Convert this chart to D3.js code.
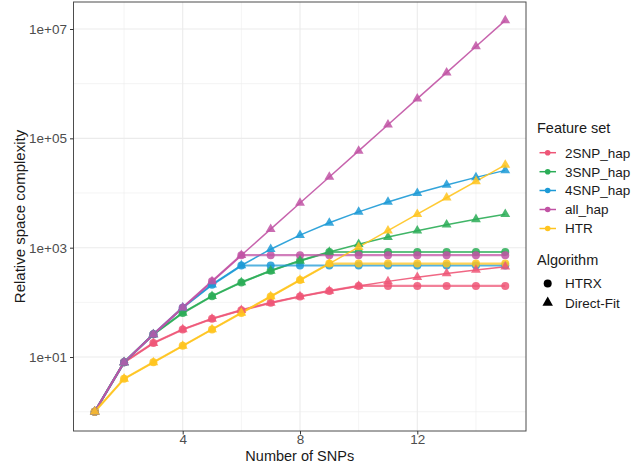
<!DOCTYPE html>
<html>
<head>
<meta charset="utf-8">
<script src="https://cdn.jsdelivr.net/npm/d3@7"></script>
<style>
  body { margin: 0; background: #fff; }
  svg { display: block; font-family: "Liberation Sans", Arial, sans-serif; }
</style>
</head>
<body>
<svg id="chart" width="637" height="469"></svg>
<script>
// ---- data ----
const snps = [1,2,3,4,5,6,7,8,9,10,11,12,13,14,15];
const featureSets = ["2SNP_hap","3SNP_hap","4SNP_hap","all_hap","HTR"];
const algorithms = ["HTRX","Direct-Fit"];
const colors = ["#EE5677","#2BAD57","#1C9AD6","#C153A4","#FFC41F"];

const directFit_2SNP = [1,8,18,32,50,72,98,128,162,200,242,288,338,392,450];
const directFit_3SNP = [1,8,26,64,130,232,378,576,834,1160,1562,2048,2626,3304,4090];
const directFit_4SNP = [1,8,26,80,210,472,938,1696,2850,4520,6842,9968,14066,19320,25930];
const directFit_all  = [1,8,26,80,242,728,2186,6560,19682,59048,177146,531440,1594322,4782968,14348906];
const directFit_HTR  = [1,4,8,16,32,64,128,256,512,1024,2048,4096,8192,16384,32768];

const htrx_2SNP = [1,8,18,32,50,72,98,128,162,200,200,200,200,200,200];
const htrx_3SNP = [1,8,26,64,130,232,378,576,834,834,834,834,834,834,834];
const htrx_4SNP = [1,8,26,80,210,472,472,472,472,472,472,472,472,472,472];
const htrx_all  = [1,8,26,80,242,728,728,728,728,728,728,728,728,728,728];
const htrx_HTR  = [1,4,8,16,32,64,128,256,512,512,512,512,512,512,512];

const xTicks = [4,8,12];
const xMinor = [2,6,10,14];
const yTicks = [1e1,1e3,1e5,1e7];
const yTickLabels = ["1e+01","1e+03","1e+05","1e+07"];
const yMinor = [1e0,1e2,1e4,1e6];

const directFit = [directFit_2SNP,directFit_3SNP,directFit_4SNP,directFit_all,directFit_HTR];
const htrx = [htrx_2SNP,htrx_3SNP,htrx_4SNP,htrx_all,htrx_HTR];

// ---- layout ----
const svg = d3.select("#chart");
const panel = {left: 73.5, right: 526, top: 2, bottom: 431};

const x = d3.scaleLinear().domain([4,12]).range([182.7,417.3]);
const y = d3.scaleLog().domain([1,1e7]).range([411.7,29]);

// panel background
svg.append("rect").attr("x",panel.left).attr("y",panel.top)
  .attr("width",panel.right-panel.left).attr("height",panel.bottom-panel.top)
  .attr("fill","#fff");

const grid = svg.append("g");
yMinor.forEach(v => grid.append("line").attr("x1",panel.left).attr("x2",panel.right)
  .attr("y1",y(v)).attr("y2",y(v)).attr("stroke","#ececec").attr("stroke-width",0.6));
xMinor.forEach(v => grid.append("line").attr("y1",panel.top).attr("y2",panel.bottom)
  .attr("x1",x(v)).attr("x2",x(v)).attr("stroke","#ececec").attr("stroke-width",0.6));
yTicks.forEach(v => grid.append("line").attr("x1",panel.left).attr("x2",panel.right)
  .attr("y1",y(v)).attr("y2",y(v)).attr("stroke","#ebebeb").attr("stroke-width",1.1));
xTicks.forEach(v => grid.append("line").attr("y1",panel.top).attr("y2",panel.bottom)
  .attr("x1",x(v)).attr("x2",x(v)).attr("stroke","#ebebeb").attr("stroke-width",1.1));

// data layers
const line = d3.line().x((d,i)=>x(snps[i])).y(d=>y(d));
const lines = svg.append("g");
featureSets.forEach((f,k) => {
  lines.append("path").datum(directFit[k]).attr("d",line)
    .attr("fill","none").attr("stroke",colors[k]).attr("stroke-width",1.5).attr("stroke-opacity",0.9);
  lines.append("path").datum(htrx[k]).attr("d",line)
    .attr("fill","none").attr("stroke",colors[k]).attr("stroke-width",2.2).attr("stroke-opacity",0.75);
});

const pts = svg.append("g");
const tri = d3.symbol().type(d3.symbolTriangle).size(42);
featureSets.forEach((f,k) => {
  pts.selectAll(null).data(htrx[k]).enter().append("circle")
    .attr("cx",(d,i)=>x(snps[i])).attr("cy",d=>y(d)).attr("r",4)
    .attr("fill",colors[k]).attr("fill-opacity",0.85);
});
featureSets.forEach((f,k) => {
  pts.selectAll(null).data(directFit[k]).enter().append("path")
    .attr("d",tri).attr("transform",(d,i)=>`translate(${x(snps[i])},${y(d)})`)
    .attr("fill",colors[k]).attr("fill-opacity",0.85);
});

// border
svg.append("rect").attr("x",panel.left).attr("y",panel.top)
  .attr("width",panel.right-panel.left).attr("height",panel.bottom-panel.top)
  .attr("fill","none").attr("stroke","#4d4d4d").attr("stroke-width",1);

// axes
const xAxis = svg.append("g").attr("transform",`translate(0,${panel.bottom})`)
  .call(d3.axisBottom(x).tickValues(xTicks).tickSize(3.5).tickPadding(0).tickFormat(d3.format("d")));
const yAxis = svg.append("g").attr("transform",`translate(${panel.left},0)`)
  .call(d3.axisLeft(y).tickValues(yTicks).tickSize(3.5).tickPadding(3).tickFormat((d,i)=>yTickLabels[i]));
[xAxis,yAxis].forEach(a => {
  a.select(".domain").remove();
  a.selectAll(".tick line").attr("stroke","#333");
  a.selectAll(".tick text").attr("fill","#4d4d4d").attr("font-size",13.5)
   .attr("font-family","Liberation Sans, Arial, sans-serif");
});

svg.append("text").attr("x",(panel.left+panel.right)/2).attr("y",460.5)
  .attr("text-anchor","middle").attr("font-size",14.5).attr("fill","#1a1a1a").text("Number of SNPs");
svg.append("text").attr("transform",`translate(25,${(panel.top+panel.bottom)/2}) rotate(-90)`)
  .attr("text-anchor","middle").attr("font-size",15).attr("fill","#1a1a1a").text("Relative space complexity");

// legend
const lg = svg.append("g");
lg.append("text").attr("x",537).attr("y",133).attr("font-size",14.5).attr("fill","#1a1a1a").text("Feature set");
const legY = [152.7,171.7,190.5,209.5,228.5];
featureSets.forEach((f,k) => {
  lg.append("line").attr("x1",539.5).attr("x2",556).attr("y1",legY[k]).attr("y2",legY[k])
    .attr("stroke",colors[k]).attr("stroke-width",1.5);
  lg.append("circle").attr("cx",547.7).attr("cy",legY[k]).attr("r",2.8).attr("fill",colors[k]);
  lg.append("text").attr("x",565).attr("y",legY[k]+4.8).attr("font-size",13.5).attr("fill","#1a1a1a").text(f);
});
lg.append("text").attr("x",537).attr("y",265).attr("font-size",14.5).attr("fill","#1a1a1a").text("Algorithm");
const algY = [283.5,302.7];
lg.append("circle").attr("cx",547.7).attr("cy",algY[0]).attr("r",4).attr("fill","#000");
lg.append("path").attr("d",d3.symbol().type(d3.symbolTriangle).size(48))
  .attr("transform",`translate(547.7,${algY[1]})`).attr("fill","#000");
algorithms.forEach((a,i) => {
  lg.append("text").attr("x",565).attr("y",algY[i]+4.8).attr("font-size",13.5).attr("fill","#1a1a1a").text(a);
});
</script>
</body>
</html>
